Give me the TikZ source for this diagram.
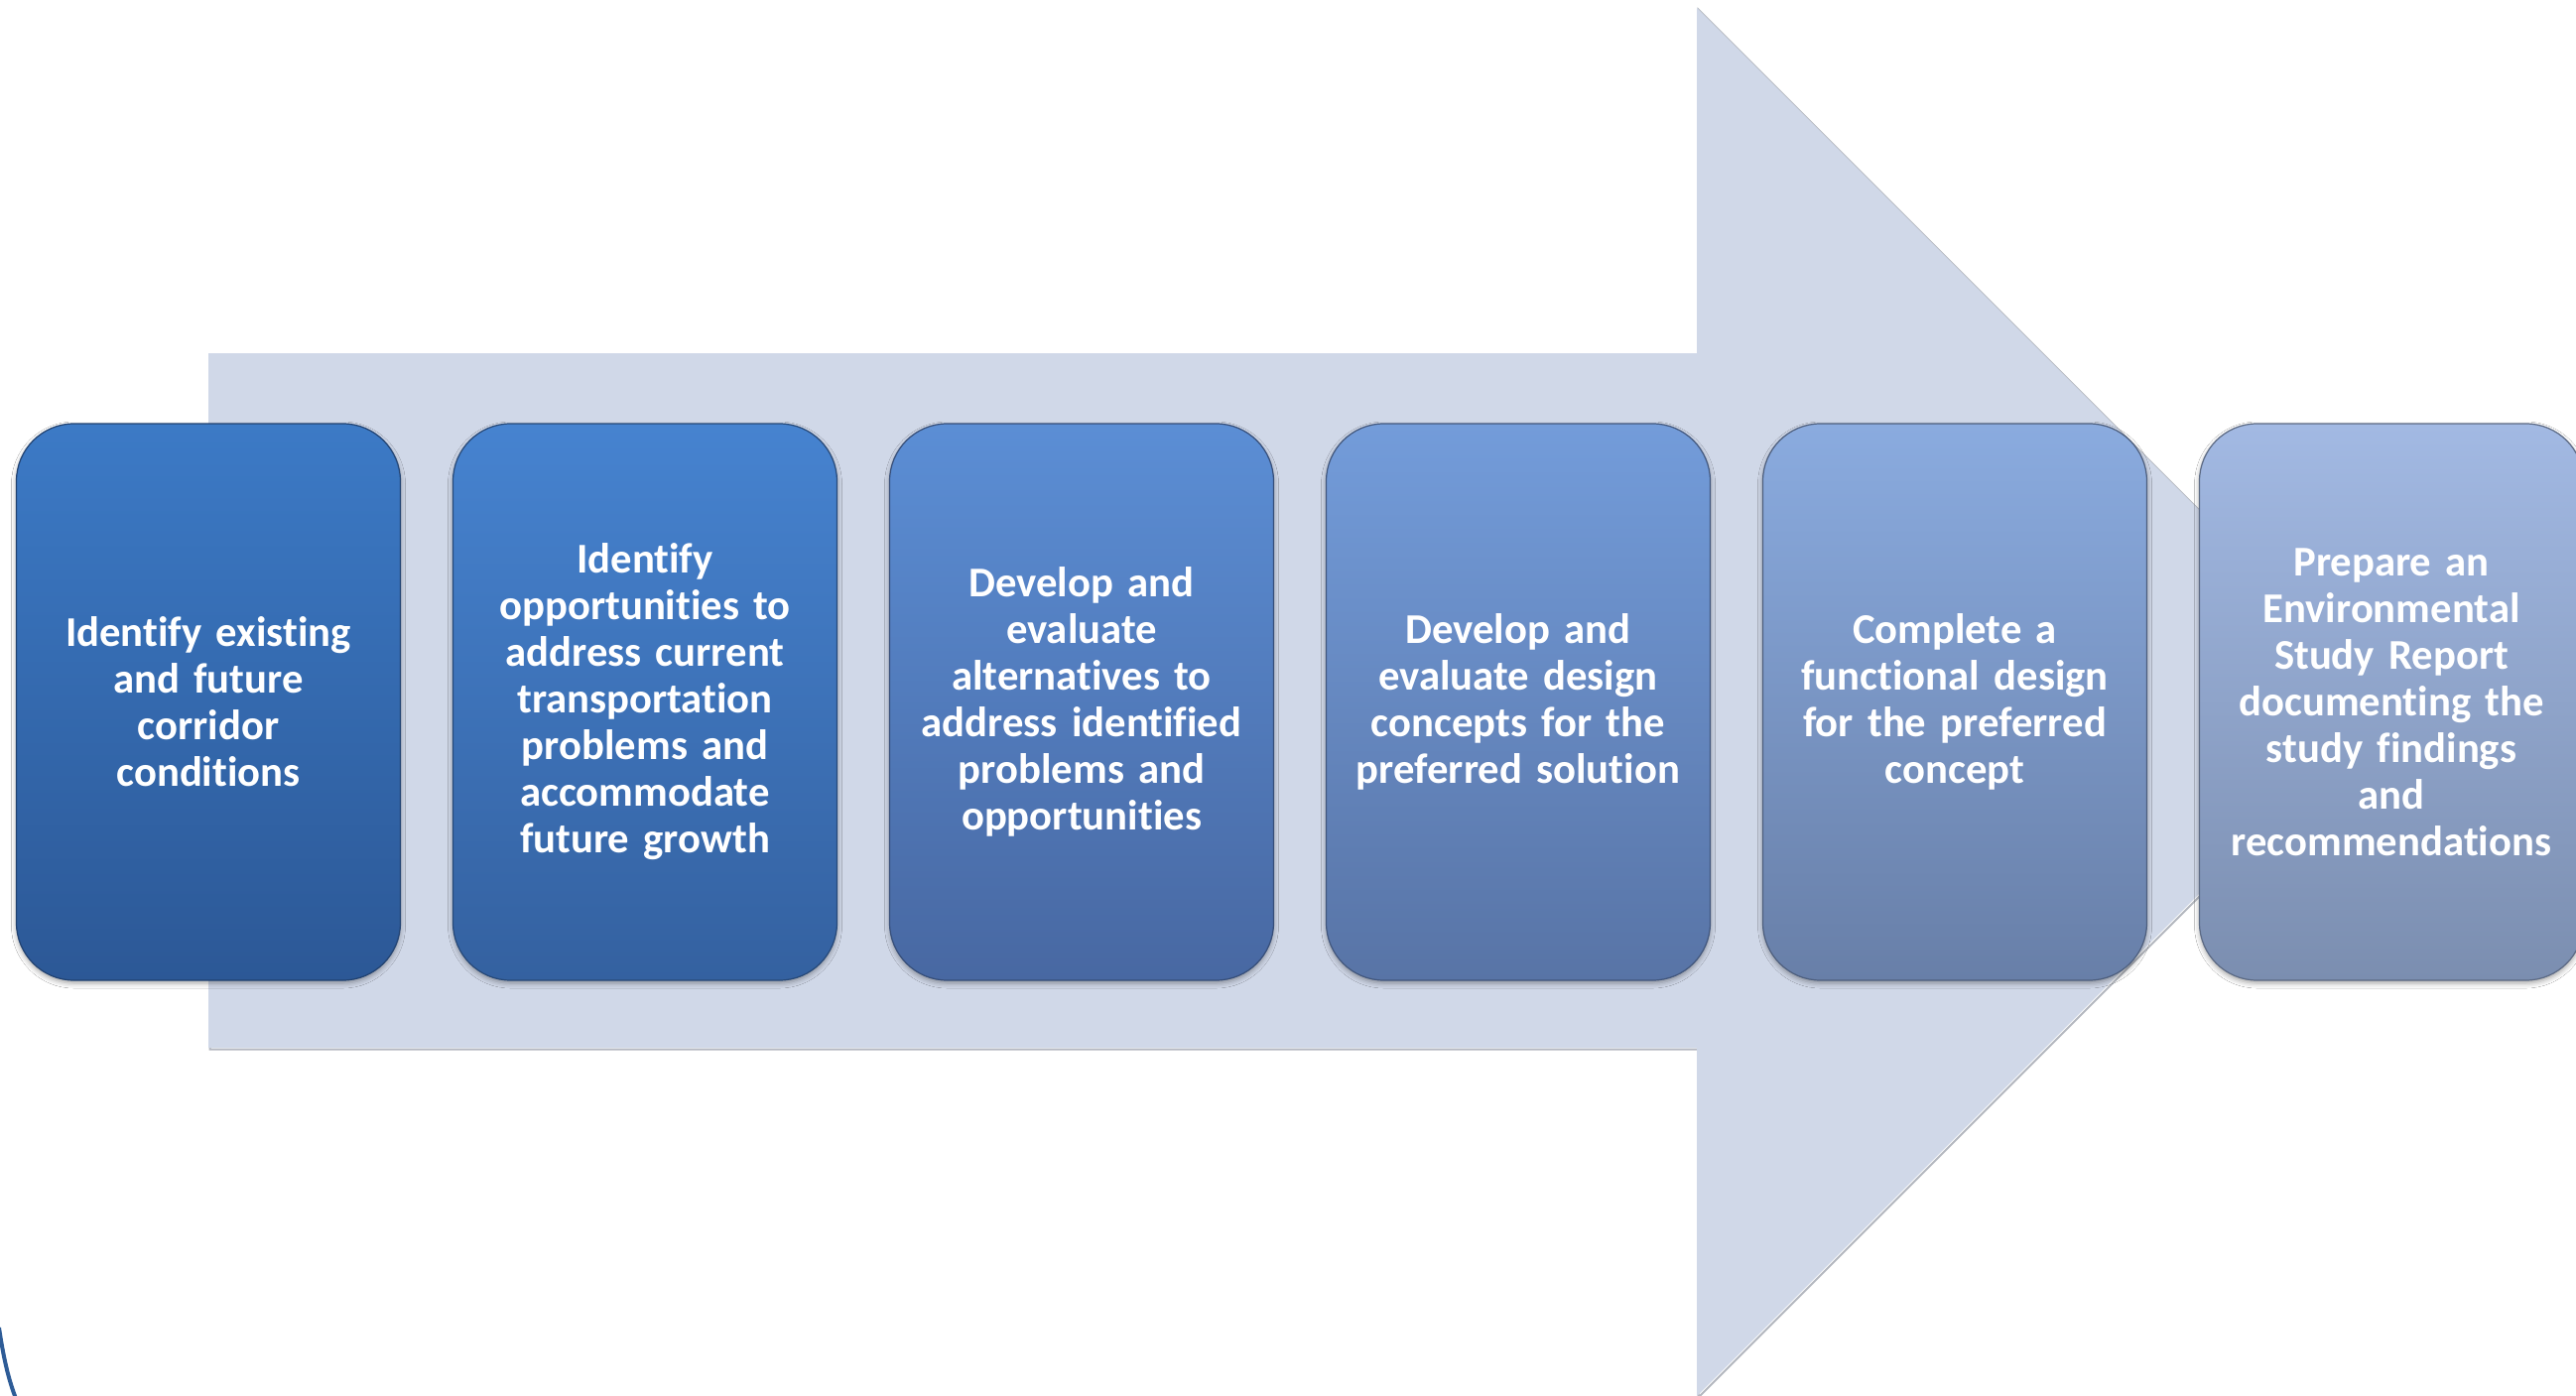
\documentclass[tikz,border=0pt]{standalone}
\usepackage{fontspec}
\setmainfont{Carlito}[Ligatures=NoCommon]
\usetikzlibrary{shadows.blur}
\definecolor{arrowfill}{HTML}{D0D8E8}
\definecolor{arrowedge}{HTML}{B4B8C0}
\definecolor{arcblue}{HTML}{2E5C97}
\definecolor{topA}{HTML}{3C7AC6}\definecolor{botA}{HTML}{2C5896}
\definecolor{topB}{HTML}{4683D0}\definecolor{botB}{HTML}{3461A0}
\definecolor{topC}{HTML}{5B8ED5}\definecolor{botC}{HTML}{4868A2}
\definecolor{topD}{HTML}{739CDA}\definecolor{botD}{HTML}{5874A6}
\definecolor{topE}{HTML}{8AABDF}\definecolor{botE}{HTML}{687FA8}
\definecolor{topF}{HTML}{A2B9E3}\definecolor{botF}{HTML}{7B8EB0}
\begin{document}
\begin{tikzpicture}[x=1pt,y=-1pt,
  stepbox/.style 2 args={rounded corners=58pt, minimum width=387pt, minimum height=561pt,
    inner sep=0pt, text width=380pt, align=center, text=white,
    font=\bfseries\fontsize{42.7}{47}\selectfont,
    top color=#1, bottom color=#2, draw=#2!75!black, line width=1.2pt,
    blur shadow={shadow xshift=0pt, shadow yshift=-3pt, shadow blur radius=5pt, shadow opacity=35}},
]
\useasboundingbox (0,0) rectangle (2596,1407);
\clip (0,0) rectangle (2596,1407);
\fill[white] (0,0) rectangle (2596,1407);

% large background arrow
\draw[arrowedge, line width=2pt, shift={(1.5pt,-1.5pt)}]
  (210,356) -- (1710,356) -- (1710,8) -- (2409.5,707.5) -- (1710,1407) -- (1710,1056) -- (210,1056) -- cycle;
\fill[arrowfill]
  (210,356) -- (1710,356) -- (1710,8) -- (2409.5,707.5) -- (1710,1407) -- (1710,1056) -- (210,1056) -- cycle;

% process steps
\node[stepbox={topA}{botA}] (s1) at (210,707.5)
  {Identify existing\\and future\\corridor\\conditions};
\node[stepbox={topB}{botB}] (s2) at (650,707.5)
  {Identify\\opportunities to\\address current\\transportation\\problems and\\accommodate\\future growth};
\node[stepbox={topC}{botC}] (s3) at (1090,707.5)
  {Develop and\\evaluate\\alternatives to\\address identified\\problems and\\opportunities};
\node[stepbox={topD}{botD}] (s4) at (1530,707.5)
  {Develop and\\evaluate design\\concepts for the\\preferred solution};
\node[stepbox={topE}{botE}] (s5) at (1970,707.5)
  {Complete a\\functional design\\for the preferred\\concept};
\node[stepbox={topF}{botF}] (s6) at (2410,707.5)
  {Prepare an\\Environmental\\Study Report\\documenting the\\study findings\\and\\recommendations};

% edge of a ring in the lower left corner
\draw[arcblue, line width=4pt] (-1,1338) .. controls (3,1365) and (8,1390) .. (17,1412);
\end{tikzpicture}
\end{document}
